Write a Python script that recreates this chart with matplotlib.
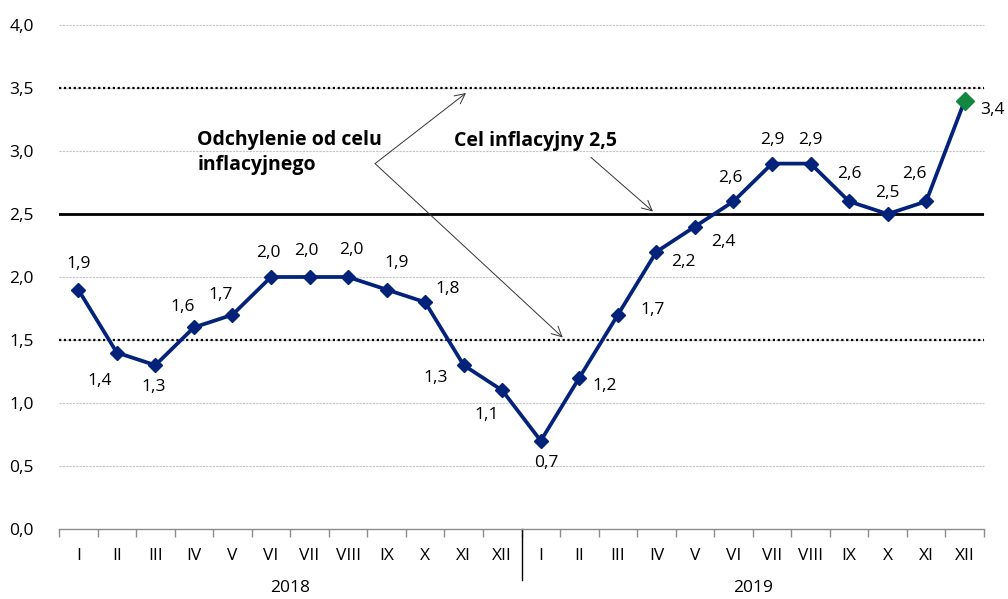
import matplotlib.pyplot as plt
import matplotlib.transforms as mtransforms
import numpy as np

plt.rcParams["font.family"] = ["Open Sans", "DejaVu Sans"]

months = ["I", "II", "III", "IV", "V", "VI", "VII", "VIII", "IX", "X", "XI", "XII"]
years = ["2018", "2019"]
inflation = [1.9, 1.4, 1.3, 1.6, 1.7, 2.0, 2.0, 2.0, 1.9, 1.8, 1.3, 1.1,
             0.7, 1.2, 1.7, 2.2, 2.4, 2.6, 2.9, 2.9, 2.6, 2.5, 2.6, 3.4]
# label offsets in pixels (dx, dy)
label_offsets = [(0, 26), (-17, -28), (-2, -22), (-11, 20), (-12, 20), (-3, 24),
                 (-3, 26), (3, 27), (10, 27), (23, 13), (-28, -13), (-16, -25),
                 (6, -22), (25, -8), (35, 5), (27, -10), (28, -15), (-3, 23),
                 (0, 24), (0, 24), (0, 27), (0, 21), (-12, 27), (28, -9)]
target = 2.5
band_low, band_high = 1.5, 3.5

navy = "#03227a"
green = "#12873f"

fig = plt.figure(figsize=(10.08, 5.99), dpi=100)
ax = fig.add_axes([59 / 1008, 70 / 599, 925 / 1008, 504 / 599])

x = np.arange(len(inflation))
ax.set_xlim(-0.5, len(inflation) - 0.5)
ax.set_ylim(0, 4.0)

# grid
yticks = np.arange(0, 4.01, 0.5)
for yv in yticks[1:]:
    ax.axhline(yv, color="#c4c4c4", lw=0.8, ls=(0, (2, 1)), zorder=1, clip_on=False)

ax.axhline(band_high, color="black", lw=1.6, ls=(0, (1, 1.2)), zorder=2)
ax.axhline(band_low, color="black", lw=1.6, ls=(0, (1, 1.2)), zorder=2)
ax.axhline(target, color="black", lw=2.0, zorder=2)

ax.plot(x, inflation, color=navy, lw=2.7, marker="D", ms=7, zorder=4, clip_on=False)
ax.plot(x[-1], inflation[-1], marker="D", ms=9, color=green, zorder=5, clip_on=False)

for xi, v, (dx, dy) in zip(x, inflation, label_offsets):
    ax.annotate(f"{v:.1f}".replace(".", ","), (xi, v), xytext=(dx, dy),
                textcoords="offset pixels", ha="center", va="center",
                fontsize=12.5, zorder=6)

# annotations
ax.text(3.09, 2.99, "Odchylenie od celu\ninflacyjnego", fontsize=14, fontweight="bold",
        ha="left", va="center", linespacing=1.35)
ax.text(9.75, 3.08, "Cel inflacyjny 2,5", fontsize=14, fontweight="bold",
        ha="left", va="center")
arrow = dict(arrowstyle="->", color="#333333", lw=0.7, shrinkA=0, shrinkB=0,
             mutation_scale=18)
ax.annotate("", xy=(10.06, 3.46), xytext=(7.70, 2.90), arrowprops=arrow)
ax.annotate("", xy=(12.57, 1.52), xytext=(7.70, 2.90), arrowprops=arrow)
ax.annotate("", xy=(14.91, 2.52), xytext=(13.30, 2.95), arrowprops=arrow)

# axes styling
for side in ["top", "right", "left"]:
    ax.spines[side].set_visible(False)
ax.spines["bottom"].set_color("#8c8c8c")
ax.spines["bottom"].set_linewidth(1.0)

ax.set_yticks(yticks)
ax.set_yticklabels([f"{v:.1f}".replace(".", ",") for v in yticks], fontsize=12.5)
ax.tick_params(axis="y", length=0, pad=18)

ax.set_xticks(np.arange(-0.5, len(inflation)), minor=False)
ax.set_xticklabels([])
ax.tick_params(axis="x", which="major", length=6, color="#8c8c8c", width=1.0)
ax.set_xticks(x, minor=True)
ax.set_xticklabels(months * 2, minor=True, fontsize=12.5)
ax.tick_params(axis="x", which="minor", length=0, pad=14)

trans = mtransforms.blended_transform_factory(ax.transData, ax.transAxes)
for i, yr in enumerate(years):
    ax.text(i * 12 + 5.5, -0.117, yr, transform=trans, ha="center", va="center",
            fontsize=12.5)
ax.plot([11.5, 11.5], [0, -0.101], transform=trans, color="black", lw=1.0,
        clip_on=False)

fig.savefig("out.png", dpi=100)
